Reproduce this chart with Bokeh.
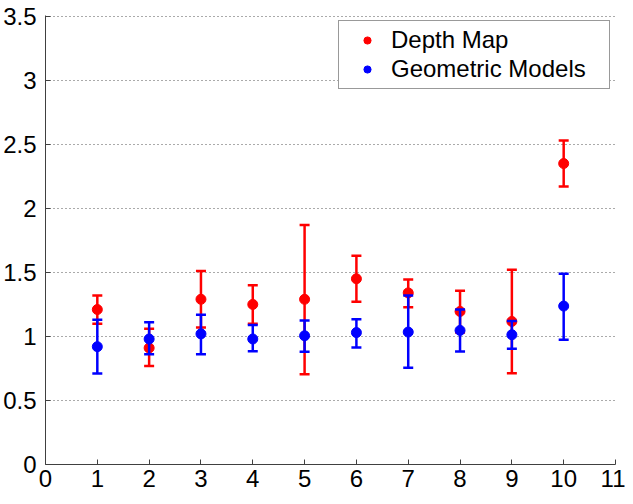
from bokeh.plotting import figure
from bokeh.models import Range1d, FixedTicker, Whisker, TeeHead, ColumnDataSource
from bokeh.embed import file_html
from bokeh.resources import INLINE

# ---- data ----
x = [1, 2, 3, 4, 5, 6, 7, 8, 9, 10]
depth_mean = [1.21, 0.91, 1.29, 1.25, 1.29, 1.45, 1.34, 1.195, 1.117, 2.35]
depth_upper = [1.32, 1.06, 1.51, 1.40, 1.87, 1.63, 1.445, 1.357, 1.52, 2.53]
depth_lower = [1.10, 0.77, 1.07, 1.10, 0.705, 1.27, 1.227, 1.03, 0.713, 2.17]
geo_mean = [0.92, 0.98, 1.02, 0.98, 1.005, 1.03, 1.034, 1.047, 1.013, 1.237]
geo_upper = [1.13, 1.11, 1.17, 1.09, 1.125, 1.135, 1.32, 1.21, 1.12, 1.49]
geo_lower = [0.71, 0.86, 0.86, 0.885, 0.88, 0.914, 0.755, 0.883, 0.904, 0.975]

x_ticks = [0, 1, 2, 3, 4, 5, 6, 7, 8, 9, 10, 11]
y_ticks = [0, 0.5, 1, 1.5, 2, 2.5, 3, 3.5]
y_tick_labels = ["0", "0.5", "1", "1.5", "2", "2.5", "3", "3.5"]

FONT = "Liberation Sans"
AX = "#404040"

p = figure(width=625, height=496, output_backend="svg", toolbar_location=None,
           x_range=Range1d(0, 11), y_range=Range1d(0, 3.506),
           min_border_left=43, min_border_right=10, min_border_top=15, min_border_bottom=32)
p.outline_line_color = None
p.background_fill_color = "white"
p.border_fill_color = "white"

# axes
for ax in (p.xaxis[0], p.yaxis[0]):
    ax.axis_line_color = AX
    ax.major_tick_line_color = AX
    ax.major_tick_in = 5
    ax.major_tick_out = 0
    ax.minor_tick_line_color = None
    ax.major_label_text_font = FONT
    ax.major_label_text_font_size = "24px"
    ax.major_label_text_color = "black"
p.xaxis.ticker = FixedTicker(ticks=x_ticks)
p.yaxis.ticker = FixedTicker(ticks=y_ticks)
p.yaxis.major_label_overrides = {t: l for t, l in zip(y_ticks, y_tick_labels)}
p.yaxis.major_label_standoff = 9
p.xaxis.major_label_standoff = 5

p.xgrid.grid_line_color = None
p.ygrid.grid_line_color = "#555555"
p.ygrid.grid_line_dash = "1 3"
p.ygrid.grid_line_width = 1

src_d = ColumnDataSource(dict(x=x, m=depth_mean, u=depth_upper, l=depth_lower))
src_g = ColumnDataSource(dict(x=x, m=geo_mean, u=geo_upper, l=geo_lower))

def whisker(src, color):
    w = Whisker(source=src, base="x", upper="u", lower="l", dimension="height",
                line_color=color, line_width=2.5, level="glyph",
                upper_head=TeeHead(size=10, line_color=color, line_width=2.5),
                lower_head=TeeHead(size=10, line_color=color, line_width=2.5))
    return w

p.renderers.append(whisker(src_d, "#ff0000"))
p.scatter("x", "m", source=src_d, size=10, color="#ff0000", legend_label="Depth Map")
p.renderers.append(whisker(src_g, "#0000ff"))
p.scatter("x", "m", source=src_g, size=10, color="#0000ff", legend_label="Geometric Models")

lg = p.legend[0]
lg.location = "top_right"
lg.margin = 5
lg.padding = 5
lg.glyph_width = 46
lg.glyph_height = 18
lg.label_height = 18
lg.label_width = 213
lg.label_standoff = 1
lg.spacing = 1
lg.label_text_font = FONT
lg.label_text_font_size = "24px"
lg.label_text_color = "black"
lg.border_line_color = "#333333"
lg.border_line_width = 1
lg.background_fill_color = "white"
lg.background_fill_alpha = 1.0

open("out.html", "w").write(file_html(p, INLINE))
